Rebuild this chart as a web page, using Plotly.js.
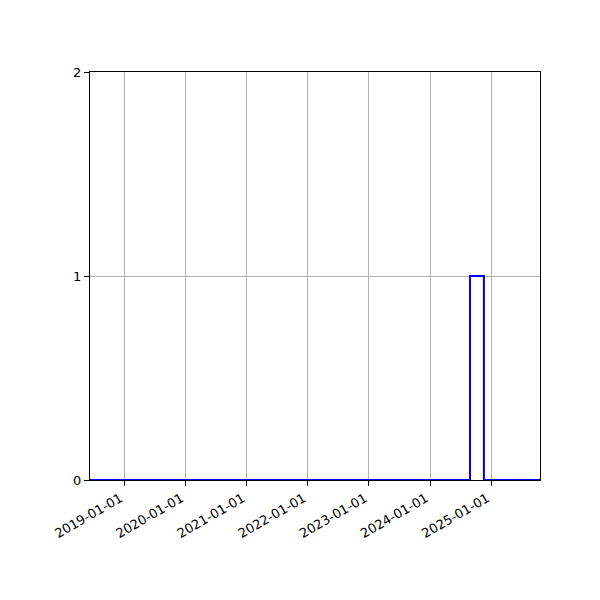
<!DOCTYPE html>
<html>
<head>
<meta charset="utf-8">
<script src="https://cdn.plot.ly/plotly-3.0.1.min.js"></script>
<style>
    html, body { margin: 0; padding: 0; background: #fff; }
    #plot { width: 600px; height: 600px; }
</style>
</head>
<body>
<div id="plot"></div>
<script>
// step edges
const step_dates = ["2018-06-10", "2024-08-27", "2024-11-18", "2025-10-19"];
const step_counts = [0, 1, 0, 0];

const x_ticks = ["2019-01-01", "2020-01-01", "2021-01-01", "2022-01-01",
                 "2023-01-01", "2024-01-01", "2025-01-01"];
const y_ticks = [0, 1, 2];

const font_family = "DejaVu Sans, sans-serif";

let data = [{
    x: step_dates,
    y: step_counts,
    mode: "lines",
    line: {shape: "hv", color: "#0000ff", width: 2},
    hoverinfo: "skip",
}];

let layout = {
    width: 600,
    height: 600,
    margin: {l: 90, r: 60, t: 72, b: 120},
    paper_bgcolor: "#ffffff",
    plot_bgcolor: "#ffffff",
    showlegend: false,
    font: {family: font_family, size: 13, color: "#000"},
    xaxis: {
        type: "date",
        range: [step_dates[0], step_dates[step_dates.length - 1]],
        tickvals: x_ticks,
        ticktext: x_ticks,
        tickangle: -30,
        ticklabelshift: -4,
        ticks: "outside",
        ticklen: 5,
        tickcolor: "#000",
        showgrid: true,
        gridcolor: "#b0b0b0",
        gridwidth: 1,
        showline: true,
        linecolor: "#000",
        linewidth: 1,
        mirror: true,
        zeroline: false,
    },
    yaxis: {
        range: [0, 2],
        tickvals: y_ticks,
        ticks: "outside",
        ticklen: 5,
        tickcolor: "#000",
        showgrid: true,
        gridcolor: "#b0b0b0",
        gridwidth: 1,
        showline: true,
        linecolor: "#000",
        linewidth: 1,
        mirror: true,
        zeroline: false,
    },
};

Plotly.newPlot("plot", data, layout, {staticPlot: true});
</script>
</body>
</html>
